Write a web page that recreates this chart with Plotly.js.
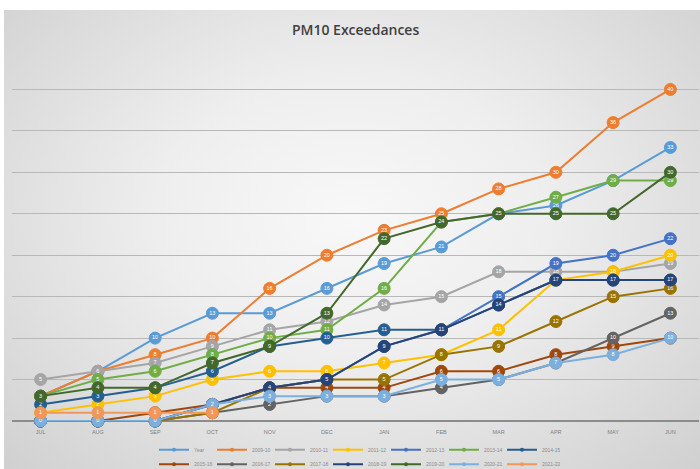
<!DOCTYPE html>
<html>
<head>
<meta charset="utf-8">
<script src="https://cdn.plot.ly/plotly-3.0.1.min.js"></script>
<style>
  html, body { margin: 0; padding: 0; background: #ffffff; }
  #wrap { position: relative; width: 700px; height: 469px; overflow: hidden; }
  #bg { position: absolute; left: 4px; top: 10px; right: 0; bottom: 0;
        background: radial-gradient(ellipse at 50% 45%, #f8f8f8 0%, #eeeeee 40%, #d0d0d0 100%); }
  #chart { position: absolute; left: 0; top: 0; width: 700px; height: 469px; }
</style>
</head>
<body>
<div id="wrap"><div id="bg"></div><div id="chart"></div></div>
<script>
// ---- data ----
const months = ["JUL","AUG","SEP","OCT","NOV","DEC","JAN","FEB","MAR","APR","MAY","JUN"];
const seriesNames = ["Year","2009-10","2010-11","2011-12","2012-13","2013-14","2014-15",
                     "2015-16","2016-17","2017-18","2018-19","2019-20","2020-21","2021-22"];
const sYear    = [3, 6, 10, 13, 13, 16, 19, 21, 25, 26, 29, 33];
const s2009_10 = [3, 6, 8, 10, 16, 20, 23, 25, 28, 30, 36, 40];
const s2010_11 = [5, 6, 7, 9, 11, 12, 14, 15, 18, 18, 18, 19];
const s2011_12 = [1, 2, 3, 5, 6, 6, 7, 8, 11, 17, 18, 20];
const s2012_13 = [0, 0, 0, 2, 4, 5, 9, 11, 15, 19, 20, 22];
const s2013_14 = [3, 5, 6, 8, 10, 11, 16, 24, 25, 27, 29, 29];
const s2014_15 = [2, 3, 4, 6, 9, 10, 11, 11, 14, 17, 17, 17];
const s2015_16 = [0, 0, 1, 2, 4, 4, 4, 6, 6, 8, 9, 10];
const s2016_17 = [0, 0, 0, 1, 2, 3, 3, 4, 5, 7, 10, 13];
const s2017_18 = [0, 0, 0, 1, 4, 5, 5, 8, 9, 12, 15, 16];
const s2018_19 = [0, 0, 0, 2, 4, 5, 9, 11, 14, 17, 17, 17];
const s2019_20 = [3, 4, 4, 7, 9, 13, 22, 24, 25, 25, 25, 30];
const s2020_21 = [0, 0, 0, 2, 3, 3, 3, 5, 5, 7, 8, 10];
const s2021_22 = [1, 1, 1, 1];
const seriesValues = [sYear, s2009_10, s2010_11, s2011_12, s2012_13, s2013_14, s2014_15,
                      s2015_16, s2016_17, s2017_18, s2018_19, s2019_20, s2020_21, s2021_22];
const colors = ["#5B9BD5","#ED7D31","#A5A5A5","#FFC000","#4472C4","#70AD47","#255E91",
                "#9E480E","#636363","#997300","#264478","#43682B","#7CAFDD","#F1975A"];

const dataTraces = seriesValues.map((vals, i) => ({
  type: "scatter",
  mode: "lines+markers+text",
  name: seriesNames[i],
  x: months.slice(0, vals.length),
  y: vals,
  text: vals.map(String),
  textposition: "middle center",
  textfont: { family: "Liberation Sans, Arial, sans-serif", size: 5.5, color: "#ffffff" },
  line: { color: colors[i], width: 2 },
  marker: { symbol: "circle", size: 12, color: colors[i], line: { color: colors[i], width: 1 } },
  showlegend: false,
  cliponaxis: false,
  hoverinfo: "x+y+name"
}));

// legend-only entries (no points), smaller swatch markers like the original
const legendTraces = seriesNames.map((nm, i) => ({
  type: "scatter",
  mode: "lines+markers",
  name: nm,
  x: [null],
  y: [null],
  line: { color: colors[i], width: 2 },
  marker: { symbol: "circle", size: 4, color: colors[i] },
  legend: i < 7 ? "legend" : "legend2",
  showlegend: true,
  hoverinfo: "skip"
}));

const legendCommon = {
  orientation: "h",
  xref: "container",
  yref: "container",
  xanchor: "center",
  x: 0.51,
  yanchor: "middle",
  bgcolor: "rgba(0,0,0,0)",
  font: { family: "Liberation Sans, Arial, sans-serif", size: 5, color: "#8a8a8a" },
  entrywidth: 13,
  itemwidth: 30,
  tracegroupgap: 0
};

const layout = {
  width: 700,
  height: 469,
  margin: { l: 12, r: 1, t: 48, b: 48, pad: 0 },
  paper_bgcolor: "rgba(0,0,0,0)",
  plot_bgcolor: "rgba(0,0,0,0)",
  title: {
    text: "PM10 Exceedances",
    font: { family: "Open Sans, sans-serif", size: 14, color: "#404040", weight: 600 },
    x: 0.508, xanchor: "center", y: 0.935, yanchor: "middle"
  },
  xaxis: {
    type: "category",
    categoryorder: "array",
    categoryarray: months,
    range: [-0.5, 11.5],
    showgrid: false,
    showline: false,
    zeroline: false,
    ticks: "",
    ticklabelstandoff: 6,
    tickfont: { family: "Liberation Sans, Arial, sans-serif", size: 5.5, color: "#7f7f7f" },
    fixedrange: true
  },
  yaxis: {
    range: [0, 45],
    dtick: 5,
    showticklabels: false,
    ticks: "",
    showgrid: true,
    gridcolor: "#b8b8b8",
    gridwidth: 1,
    zeroline: true,
    zerolinecolor: "#8c8c8c",
    zerolinewidth: 1.5,
    showline: false,
    fixedrange: true
  },
  showlegend: true,
  legend: Object.assign({}, legendCommon, { y: 0.041 }),
  legend2: Object.assign({}, legendCommon, { y: 0.01 })
};

Plotly.newPlot("chart", dataTraces.concat(legendTraces), layout, { displayModeBar: false, staticPlot: true });
</script>
</body>
</html>
